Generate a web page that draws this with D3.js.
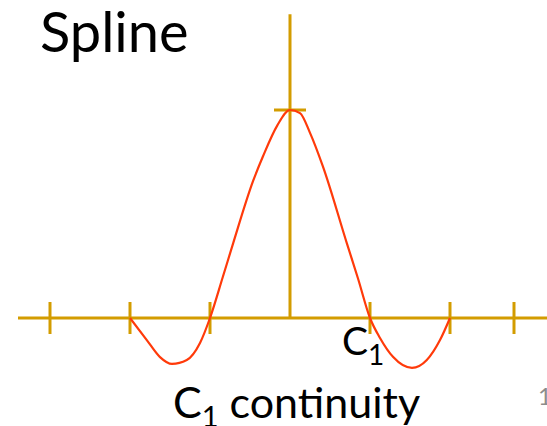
<!DOCTYPE html>
<html>
<head>
<meta charset="utf-8">
<script src="https://cdn.jsdelivr.net/npm/d3@7"></script>
<style>
  html, body { margin: 0; padding: 0; background: #fff; overflow: hidden; }
  text { font-family: Lato, "Open Sans", sans-serif; fill: #000; }
</style>
</head>
<body>
<div id="spline"></div>
<script>
// knot ticks on the horizontal axis (in knot units, centre = 0)
const tickKnots = [-3, -2, -1, 1, 2, 2.8];
// points
const curveX = [-2, -1.79, -1.625, -1.475, -1.29, -1.125, -1, -0.84, -0.71, -0.46, -0.34, -0.16, 0,
  0.125, 0.25, 0.41, 0.71, 0.85, 1, 1.125, 1.29, 1.525, 1.71, 1.875, 2];
const curveY = [0, -0.106, -0.188, -0.221, -0.202, -0.12, 0, 0.197, 0.36, 0.66, 0.775, 0.925, 1,
  0.985, 0.89, 0.73, 0.36, 0.19, 0, -0.096, -0.188, -0.24, -0.202, -0.106, 0];
const peakValue = 1;

function drawSpline () {
  const svgWidth = 547;
  const svgHeight = 426;
  const axisColor = "#d39c00";

  const svg = d3.select("#spline")
    .append("svg")
    .attr("width", svgWidth)
    .attr("height", svgHeight);

  const x = d3.scaleLinear().domain([-3, 3]).range([50, 530]);
  const y = d3.scaleLinear().domain([0, 1]).range([318, 110]);

  // horizontal axis
  svg.append("line")
    .attr("x1", x(-3.4)).attr("x2", x(3.25))
    .attr("y1", y(0)).attr("y2", y(0))
    .attr("stroke", axisColor).attr("stroke-width", 3);

  // vertical axis
  svg.append("line")
    .attr("x1", x(0)).attr("x2", x(0))
    .attr("y1", y(0)).attr("y2", y(1.46))
    .attr("stroke", axisColor).attr("stroke-width", 3);

  // knot ticks
  svg.selectAll(".knot")
    .data(tickKnots)
    .enter()
    .append("line")
    .attr("x1", d => x(d)).attr("x2", d => x(d))
    .attr("y1", y(0) - 16).attr("y2", y(0) + 16)
    .attr("stroke", axisColor).attr("stroke-width", 3);

  // tick marking the peak
  svg.append("line")
    .attr("x1", x(-0.2)).attr("x2", x(0.2))
    .attr("y1", y(peakValue)).attr("y2", y(peakValue))
    .attr("stroke", axisColor).attr("stroke-width", 3);

  // the spline
  const pts = curveX.map((d, i) => [d, curveY[i]]);
  const line = d3.line()
    .x(d => x(d[0]))
    .y(d => y(d[1]))
    .curve(d3.curveMonotoneX);
  svg.append("path")
    .datum(pts)
    .attr("d", line)
    .attr("fill", "none")
    .attr("stroke", "#ff3a0a")
    .attr("stroke-width", 2.2);

  // title
  svg.append("text")
    .attr("x", 40).attr("y", 52)
    .style("font-size", "56px")
    .text("Spline");

  // C1 label by the knot
  const c1 = svg.append("text")
    .attr("x", 342).attr("y", 355)
    .style("font-size", "39px");
  c1.append("tspan").text("C");
  c1.append("tspan").attr("dy", 10).style("font-size", "28px").text("1");

  // caption
  const cap = svg.append("text")
    .attr("x", 173).attr("y", 418)
    .style("font-size", "43px");
  cap.append("tspan").text("C");
  cap.append("tspan").attr("dy", 9).style("font-size", "29px").text("1");
  cap.append("tspan").attr("dy", -9).text(" continuity");

  // page number, cut by the edge
  svg.append("text")
    .attr("x", 538).attr("y", 405)
    .style("font-size", "24px")
    .style("fill", "#8c8c8c")
    .text("1");
}

drawSpline();
</script>
</body>
</html>
